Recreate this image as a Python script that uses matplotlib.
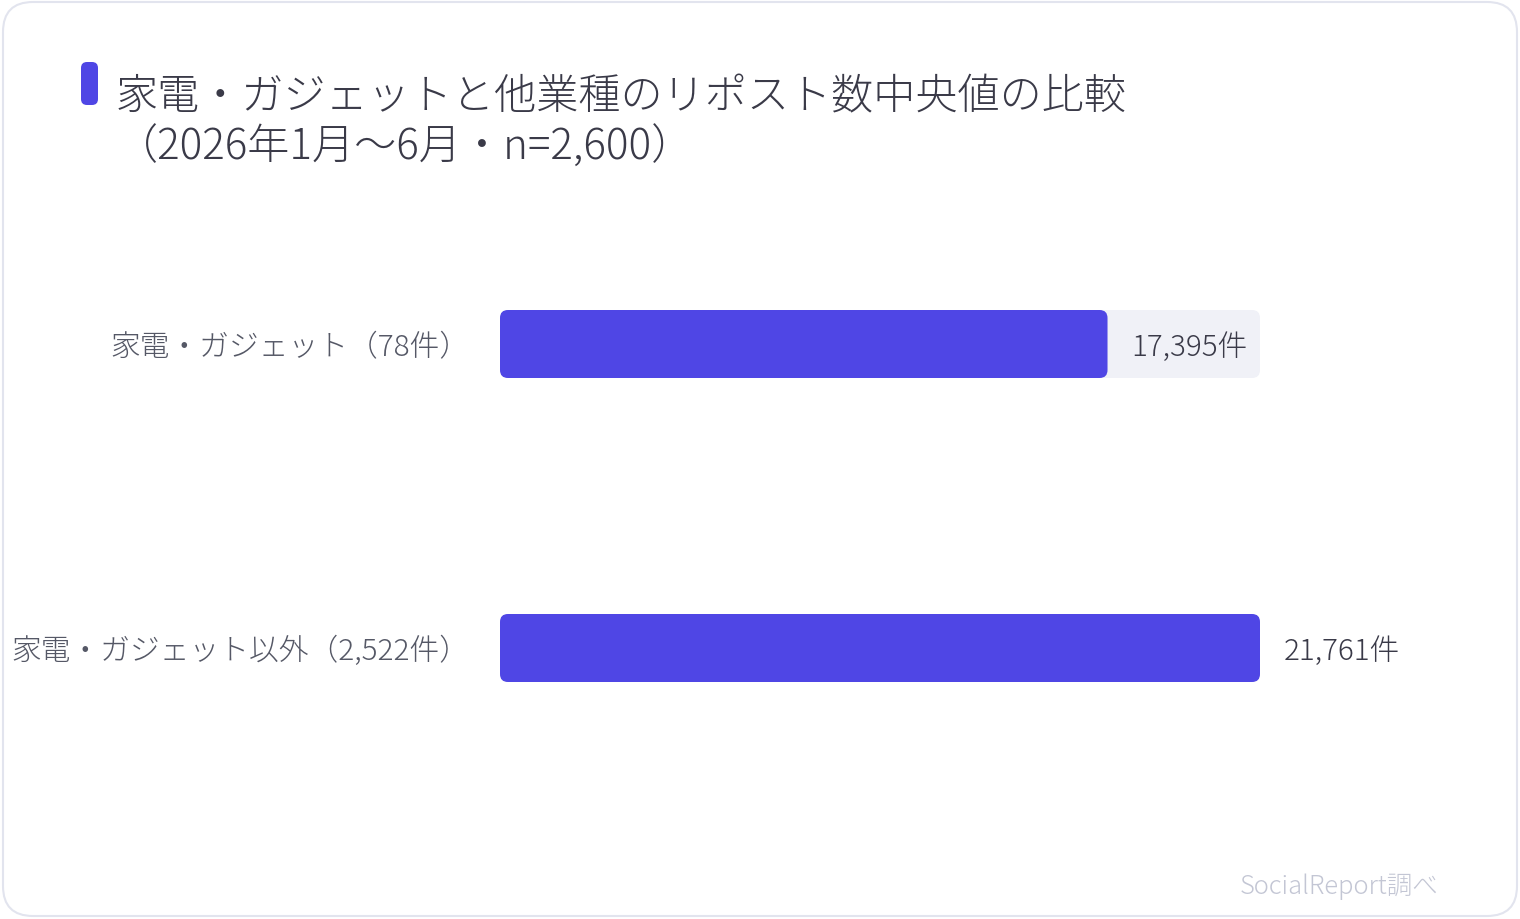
import matplotlib.pyplot as plt
from matplotlib.patches import FancyBboxPatch

plt.rcParams["font.family"] = ["Noto Sans CJK JP", "DejaVu Sans"]

categories = ["家電・ガジェット（78件）", "家電・ガジェット以外（2,522件）"]
medians = [17395, 21761]
value_labels = ["17,395件", "21,761件"]
title = "家電・ガジェットと他業種のリポスト数中央値の比較\n（2026年1月〜6月・n=2,600）"
source = "SocialReport調べ"

ACCENT = "#4f46e5"
TRACK = "#f0f1f7"
TEXT = "#3a3a48"
W, H = 1520, 920

fig = plt.figure(figsize=(W / 100, H / 100), dpi=100)

# background card + decorations in pixel coordinates
bg = fig.add_axes([0, 0, 1, 1])
bg.set_xlim(0, W)
bg.set_ylim(H, 0)
bg.axis("off")
bg.add_patch(FancyBboxPatch((3, 3), W - 6, H - 6,
                            boxstyle="round,pad=0,rounding_size=30",
                            fc="white", ec="#e2e4ee", lw=1.5))
bg.add_patch(FancyBboxPatch((81, 63), 17, 43,
                            boxstyle="round,pad=0,rounding_size=6",
                            fc=ACCENT, ec="none"))
bg.text(116, 123, title, fontsize=30.3, color=TEXT, va="center", ha="left",
        linespacing=1.2, fontweight="light")
bg.text(1438, 887, source, fontsize=18.4, color="#c3c6d4", ha="right",
        va="center", fontweight="light")

# bar area: x 500..1260 px, rows centred at 345 and 649 px
left, right, top, bottom = 500, 1260, 193, 801
ax = fig.add_axes([left / W, 1 - bottom / H, (right - left) / W, (bottom - top) / H])
xmax = max(medians)
ax.set_xlim(0, xmax)
ax.set_ylim(len(categories) - 0.5, -0.5)
ax.axis("off")

bar_h = 68 / 304
px_x = xmax / (right - left)
px_y = 1 / 304
rs = 8 * px_x
aspect = px_y / px_x

bars = ax.barh(range(len(categories)), medians, height=bar_h, color="none")
for i, (b, val, lab, cat) in enumerate(zip(bars, medians, value_labels, categories)):
    y0 = b.get_y()
    # track
    ax.add_patch(FancyBboxPatch((0, y0), xmax, bar_h,
                                boxstyle=f"round,pad=0,rounding_size={rs}",
                                mutation_aspect=aspect, fc=TRACK, ec="none"))
    ax.add_patch(FancyBboxPatch((0, y0), val, bar_h,
                                boxstyle=f"round,pad=0,rounding_size={rs}",
                                mutation_aspect=aspect, fc=ACCENT, ec="none"))
    ax.text(val + 24 * px_x, i + 2.5 * px_y, lab, fontsize=21.3, color=TEXT,
            va="center", ha="left", fontweight="light")
    ax.text(-31 * px_x, i + 2.5 * px_y, cat, fontsize=21.4, color="#555866",
            va="center", ha="right", fontweight="light", clip_on=False)

fig.savefig("out.png", dpi=100)
